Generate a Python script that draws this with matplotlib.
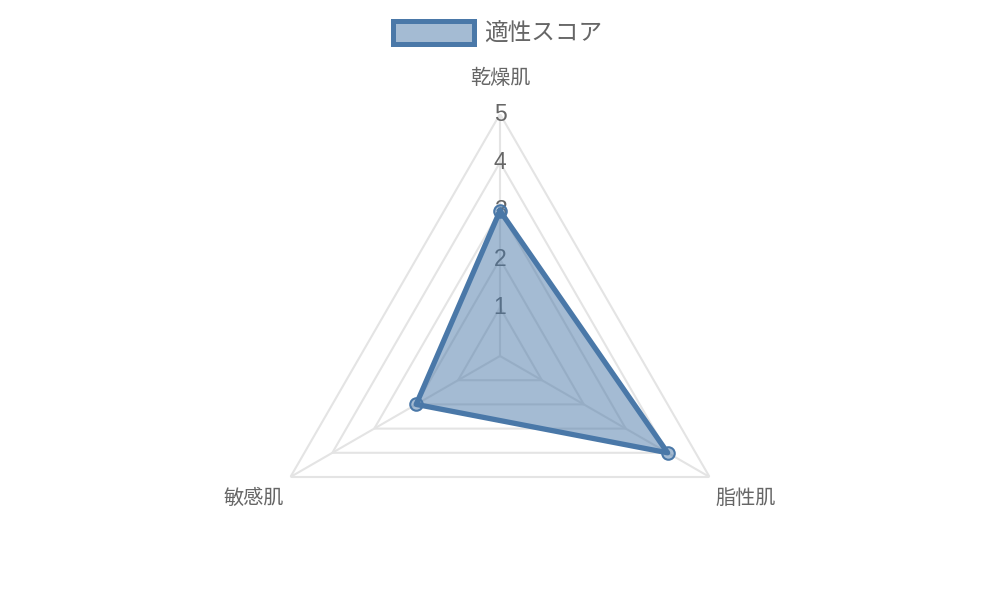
import numpy as np
import matplotlib
matplotlib.use('Agg')
import matplotlib.pyplot as plt
from matplotlib.patches import Patch

plt.rcParams['font.family'] = ['Liberation Sans', 'Noto Sans CJK JP', 'DejaVu Sans']

# data
categories = ['乾燥肌', '脂性肌', '敏感肌']
scores = [3, 4, 2]
series_name = '適性スコア'
ticks = [1, 2, 3, 4, 5]
r_max = 5

line_color = '#4a78a8'
fill_color = (74 / 255, 120 / 255, 168 / 255, 0.5)
grid_color = '#e4e4e4'
text_color = '#666666'

fig = plt.figure(figsize=(10, 6), dpi=100)
ax = fig.add_axes([0.258, 0.00333, 0.484, 0.80667], projection='polar')
ax.set_theta_offset(np.pi / 2)
ax.set_theta_direction(-1)
ax.set_ylim(0, r_max)
ax.grid(False)
ax.set_xticks([])
ax.set_yticks([])
ax.spines['polar'].set_visible(False)
ax.patch.set_alpha(0)

n = len(categories)
angles = np.arange(n) * 2 * np.pi / n
closed = np.append(angles, angles[0])

# polygon grid rings and spokes
for t in ticks:
    ax.plot(closed, [t] * (n + 1), color=grid_color, lw=1.5, zorder=1)
for a in angles:
    ax.plot([a, a], [0, r_max], color=grid_color, lw=1.5, zorder=1)

# tick labels along the first spoke (drawn under the dataset)
for t in ticks:
    ax.text(0, t, str(t), ha='center', va='center', fontsize=16.5,
            color=text_color, zorder=2)

# point labels, a bit further out at the lower corners
label_r = [5.74, 5.87, 5.87]
for a, c, lr in zip(angles, categories, label_r):
    ax.text(a, lr, c, ha='center', va='center', fontsize=14.5,
            color=text_color)

# dataset
vals = scores + scores[:1]
ax.fill(closed, vals, color=fill_color, zorder=3, lw=0)
ax.plot(closed, vals, color=line_color, lw=3.8, zorder=4)
ax.plot(angles, scores, 'o', ms=9, mfc=fill_color, mec=line_color,
        mew=1.5, zorder=5)

handle = Patch(facecolor=fill_color, edgecolor=line_color, linewidth=3.6)
fig.legend([handle], [series_name], loc='center', bbox_to_anchor=(0.498, 0.945),
           frameon=False, fontsize=17, labelcolor=text_color,
           handlelength=3.4, handleheight=1.15, handletextpad=0.45)

fig.savefig('out.png', dpi=100)
